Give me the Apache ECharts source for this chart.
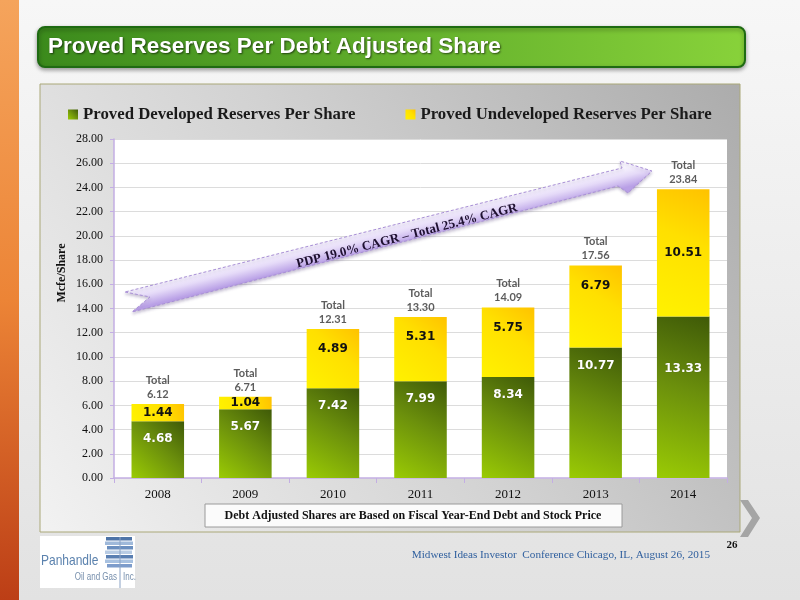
<!DOCTYPE html>
<html><head><meta charset="utf-8">
<script src="https://cdn.jsdelivr.net/npm/echarts/dist/echarts.min.js"></script>
<style>html,body{margin:0;padding:0;width:800px;height:600px;overflow:hidden;background:#e8e8e8}#c{width:800px;height:600px}</style>
</head><body><div id="c"></div><script>
const years = ['2008','2009','2010','2011','2012','2013','2014'];
const developed = [4.68, 5.67, 7.42, 7.99, 8.34, 10.77, 13.33];
const undeveloped = [1.44, 1.04, 4.89, 5.31, 5.75, 6.79, 10.51];
const totals = [6.12, 6.71, 12.31, 13.30, 14.09, 17.56, 23.84];
const seriesNames = ['Proved Developed Reserves Per Share', 'Proved Undeveloped Reserves Per Share'];

const SERIF = "'Liberation Serif','DejaVu Serif',serif";
const SANS = "'Liberation Sans',Arimo,sans-serif";
const rad = d => d * Math.PI / 180;

const greenGrad = new echarts.graphic.LinearGradient(0, 1, 1, 0, [
  {offset: 0, color: '#9acb04'}, {offset: 0.55, color: '#6b8f0c'}, {offset: 1, color: '#3f5a08'}]);
const yellowGrad = new echarts.graphic.LinearGradient(0, 1, 1, 0, [
  {offset: 0, color: '#fff200'}, {offset: 0.6, color: '#ffe000'}, {offset: 1, color: '#ffc200'}]);
const arrowGrad = new echarts.graphic.LinearGradient(387.6, 225.8, 392.4, 245.2, [
  {offset: 0, color: '#f8f5fe'}, {offset: 0.45, color: '#e5daf8'}, {offset: 1, color: '#b9a0e6'}], true);

const devData = developed.map((v, i) => i === 6 ? {value: v, label: {offset: [0, 34]}} : v);
const undData = undeveloped.map((v, i) => (i === 0 || i === 1 || i === 6) ? {value: v, label: {position: 'inside'}} : v);

const chart = echarts.init(document.getElementById('c'), null, {renderer: 'canvas'});
chart.setOption({
  animation: false,
  backgroundColor: 'transparent',
  graphic: [
    {type: 'rect', z: -100, shape: {x: 0, y: 0, width: 800, height: 600},
      style: {fill: new echarts.graphic.LinearGradient(0, 0, 0, 1, [{offset: 0, color: '#f7f7f7'}, {offset: 1, color: '#e2e2e2'}])}},
    {type: 'rect', z: -99, shape: {x: 0, y: 0, width: 19, height: 600},
      style: {fill: new echarts.graphic.LinearGradient(0, 0, 0, 1, [{offset: 0, color: '#f5a45c'}, {offset: 0.5, color: '#ec8436'}, {offset: 1, color: '#bc3e16'}])}},
    {type: 'rect', z: -98, shape: {x: 38, y: 27, width: 707, height: 40, r: 7},
      style: {fill: new echarts.graphic.LinearGradient(0, 0, 1, 0, [{offset: 0, color: '#3b8a1c'}, {offset: 1, color: '#88d23a'}]),
        stroke: '#1f6b12', lineWidth: 2, shadowBlur: 4, shadowColor: 'rgba(0,0,0,0.35)', shadowOffsetY: 2}},
    {type: 'text', z: 10, x: 48, y: 47,
      style: {text: 'Proved Reserves Per Debt Adjusted Share', fill: '#ffffff', font: "bold 22.5px " + SANS,
        textVerticalAlign: 'middle', verticalAlign: 'middle', textShadowColor: 'rgba(0,0,0,0.6)', textShadowBlur: 2, textShadowOffsetX: 1, textShadowOffsetY: 1}},
    {type: 'rect', z: -97, shape: {x: 40, y: 84, width: 700, height: 448},
      style: {fill: new echarts.graphic.LinearGradient(0, 1, 1, 0, [{offset: 0, color: '#f2f2f2'}, {offset: 0.5, color: '#d2d2d2'}, {offset: 1, color: '#acacac'}]),
        stroke: '#aaa878', lineWidth: 1}},
    {type: 'polygon', z: 50, shape: {points: [[125, 292], [150, 297], [132, 312], [618, 186], [628, 193], [652, 171], [620, 161], [622, 168]]},
      style: {fill: arrowGrad, stroke: '#a990d6', lineWidth: 1, lineDash: [3, 2],
        shadowBlur: 3, shadowColor: 'rgba(80,60,120,0.3)', shadowOffsetY: 2}},
    {type: 'text', z: 51, x: 407, y: 236, rotation: rad(14.4),
      style: {text: 'PDP 19.0% CAGR \u2013 Total 25.4% CAGR', fill: '#1e1030', font: "bold 13px " + SERIF,
        textAlign: 'center', align: 'center', textVerticalAlign: 'middle', verticalAlign: 'middle'}},
    {type: 'text', z: 10, x: 62, y: 273, rotation: rad(90),
      style: {text: 'Mcfe/Share', fill: '#111', font: "bold 12px " + SERIF,
        textAlign: 'center', align: 'center', textVerticalAlign: 'middle', verticalAlign: 'middle'}},
    {type: 'rect', z: 10, shape: {x: 205, y: 504, width: 417, height: 23},
      style: {fill: '#fbfbfb', stroke: '#9a9a9a', lineWidth: 1}},
    {type: 'text', z: 11, x: 413, y: 516,
      style: {text: 'Debt Adjusted Shares are Based on Fiscal Year-End Debt and Stock Price', fill: '#111', font: "bold 12px " + SERIF,
        textAlign: 'center', align: 'center', textVerticalAlign: 'middle', verticalAlign: 'middle'}},
    {type: 'polygon', z: 10, shape: {points: [[740, 500], [748, 500], [760, 518], [748, 537], [740, 537], [752, 518]]},
      style: {fill: '#a5a5a5'}},
    {type: 'text', z: 10, x: 710, y: 555,
      style: {text: 'Midwest Ideas Investor  Conference Chicago, IL, August 26, 2015', fill: '#2f5f9e', font: "11.2px " + SERIF,
        textAlign: 'right', align: 'right', textVerticalAlign: 'middle', verticalAlign: 'middle'}},
    {type: 'text', z: 10, x: 732, y: 545,
      style: {text: '26', fill: '#111', font: "bold 11px " + SERIF,
        textAlign: 'center', align: 'center', textVerticalAlign: 'middle', verticalAlign: 'middle'}},
    {type: 'rect', z: 10, shape: {x: 40, y: 536, width: 95, height: 52}, style: {fill: '#ffffff'}},
    {type: 'rect', z: 11, shape: {x: 106, y: 537, width: 26, height: 3.5}, style: {fill: '#4e74a8'}},
    {type: 'rect', z: 11, shape: {x: 105, y: 541.5, width: 28, height: 3.5}, style: {fill: '#9fb9da'}},
    {type: 'rect', z: 11, shape: {x: 107, y: 546, width: 26, height: 3.5}, style: {fill: '#6b8fbf'}},
    {type: 'rect', z: 11, shape: {x: 105, y: 550.5, width: 27, height: 3.5}, style: {fill: '#b9cce4'}},
    {type: 'rect', z: 11, shape: {x: 106, y: 555, width: 27, height: 3.5}, style: {fill: '#5a7fb2'}},
    {type: 'rect', z: 11, shape: {x: 105, y: 559.5, width: 28, height: 3.5}, style: {fill: '#a8c1e0'}},
    {type: 'rect', z: 11, shape: {x: 107, y: 564, width: 25, height: 3.5}, style: {fill: '#7d9ccb'}},
    {type: 'line', z: 12, shape: {x1: 120, y1: 537, x2: 120, y2: 588}, style: {stroke: '#8aa2c4', lineWidth: 1}},
    {type: 'text', z: 12, x: 41, y: 561, scaleX: 0.8,
      style: {text: 'Panhandle', fill: '#5b82ae', font: "15px " + SANS, textVerticalAlign: 'middle', verticalAlign: 'middle'}},
    {type: 'text', z: 12, x: 117, y: 577, scaleX: 0.8,
      style: {text: 'Oil and Gas', fill: '#7890ad', font: "10px " + SANS, textAlign: 'right', align: 'right', textVerticalAlign: 'middle', verticalAlign: 'middle'}},
    {type: 'text', z: 12, x: 123, y: 577, scaleX: 0.8,
      style: {text: 'Inc.', fill: '#7890ad', font: "10px " + SANS, textVerticalAlign: 'middle', verticalAlign: 'middle'}}
  ],
  legend: {
    left: 63, top: 101, itemWidth: 10, itemHeight: 10, itemGap: 50, icon: 'rect',
    data: seriesNames,
    textStyle: {fontFamily: SERIF, fontWeight: 'bold', fontSize: 16.8, color: '#1a1a1a'}
  },
  grid: {left: 114, right: 73, top: 139, bottom: 122, show: true, backgroundColor: '#ffffff', borderWidth: 0},
  xAxis: {
    type: 'category', data: years,
    axisLine: {lineStyle: {color: '#c3aee3', width: 1.5}},
    axisTick: {show: true, length: 5, lineStyle: {color: '#c3aee3'}},
    axisLabel: {fontFamily: SERIF, fontSize: 13, color: '#111', margin: 10}
  },
  yAxis: {
    type: 'value', min: 0, max: 28, interval: 2,
    axisLine: {show: true, lineStyle: {color: '#c3aee3', width: 1.5}},
    axisTick: {show: true, length: 4, lineStyle: {color: '#c3aee3'}},
    axisLabel: {fontFamily: SERIF, fontSize: 12, color: '#111', margin: 11, formatter: v => v.toFixed(2)},
    splitLine: {lineStyle: {color: '#dcdcdc', width: 1}}
  },
  series: [
    {name: seriesNames[0], type: 'bar', stack: 'r', barWidth: '60%', data: devData,
      itemStyle: {color: greenGrad},
      label: {show: true, position: 'insideTop', distance: 12, color: '#ffffff', fontFamily: "'DejaVu Sans',sans-serif",
        fontWeight: 'bold', fontSize: 12, formatter: p => p.value.toFixed(2),
        textShadowColor: 'rgba(0,0,0,0.35)', textShadowBlur: 1}},
    {name: seriesNames[1], type: 'bar', stack: 'r', barWidth: '60%', data: undData,
      itemStyle: {color: yellowGrad},
      label: {show: true, position: 'insideTop', distance: 14, color: '#111111', fontFamily: "'DejaVu Sans',sans-serif",
        fontWeight: 'bold', fontSize: 12, formatter: p => p.value.toFixed(2)}},
    {name: 'Total', type: 'scatter', data: totals, symbolSize: 1, itemStyle: {color: 'rgba(0,0,0,0)'}, silent: true,
      label: {show: true, position: 'top', distance: 2, color: '#333333', fontFamily: "Lato,'Open Sans',sans-serif",
        fontWeight: 'bold', fontSize: 11, lineHeight: 14, formatter: p => 'Total\n' + p.value.toFixed(2)}}
  ]
});
</script></body></html>
